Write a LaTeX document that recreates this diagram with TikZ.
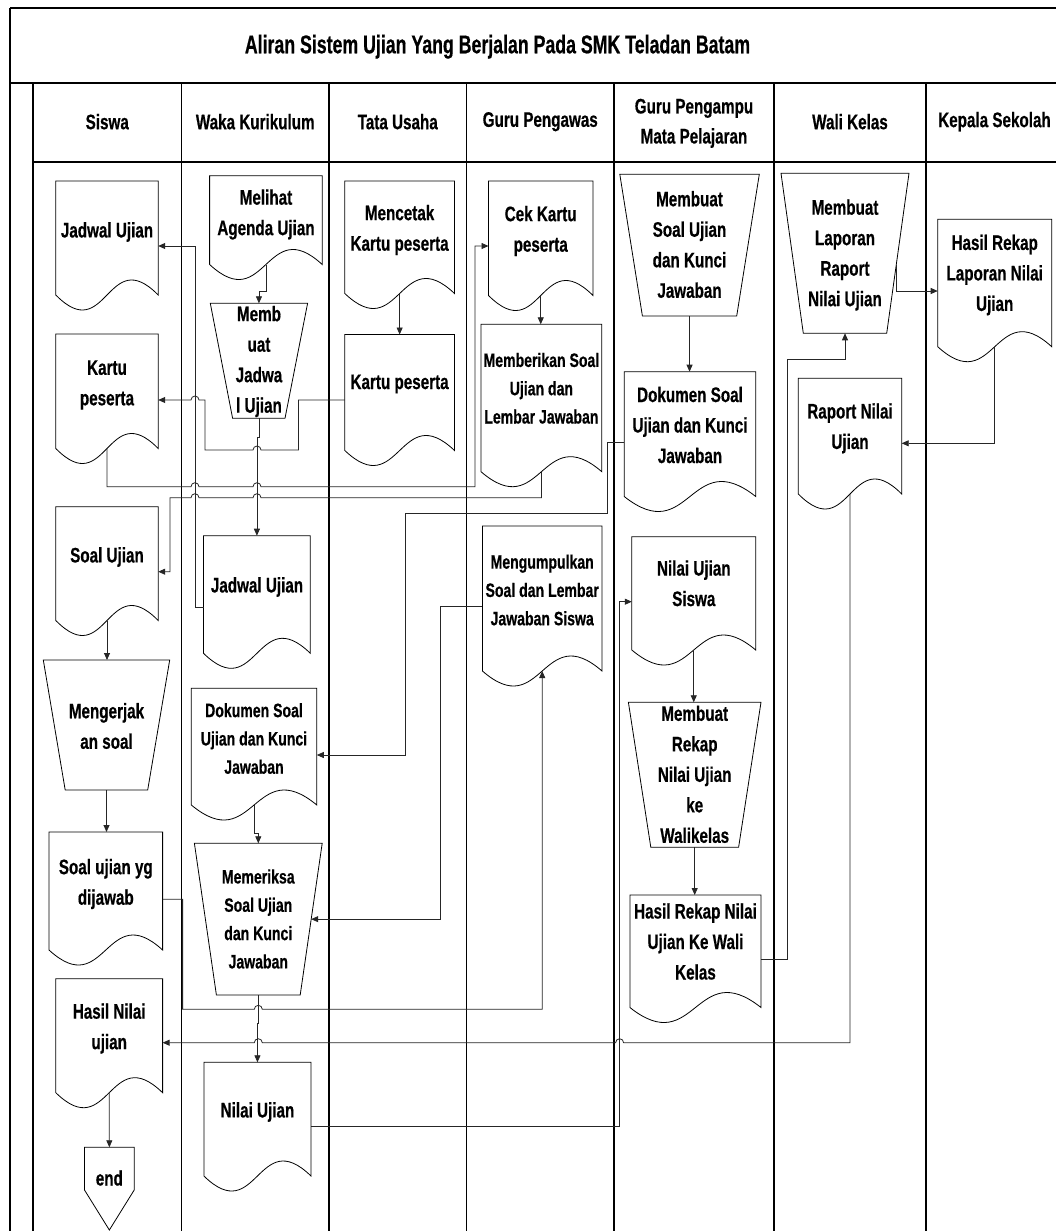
\documentclass[tikz,border=0pt]{standalone}
\usepackage{fontspec}
\setmainfont{Liberation Sans}[FakeStretch=0.725, BoldFeatures={FakeBold=0.5}]
\newfontfamily\titlefont{Liberation Sans}[FakeStretch=0.69, BoldFeatures={FakeBold=0.5}]
\usetikzlibrary{arrows.meta,calc,fit}

% document symbol: rectangle with a wavy bottom edge
\newcommand{\docnode}[5]{% name, x left, y top, x right, y side end
  \coordinate (#1-tl) at (#2,#3);
  \coordinate (#1-br) at (#4,#5);
  \node[box, fit=(#1-tl)(#1-br)] (#1) {};
  \draw[outline] (#1.north west) -- (#1.south west)
    .. controls ($(#1.south)+(0,52)$) and ($(#1.south)+(0,-52)$) .. (#1.south east)
    -- (#1.north east) -- cycle;
}
% manual operation symbol: trapezoid, wide side on top
\newcommand{\trapnode}[7]{% name, x top left, x top right, y top, x bottom left, x bottom right, y bottom
  \coordinate (#1-tl) at (#2,#4);
  \coordinate (#1-tr) at (#3,#4);
  \coordinate (#1-bl) at (#5,#7);
  \coordinate (#1-br) at (#6,#7);
  \node[box, fit=(#1-tl)(#1-tr)(#1-bl)(#1-br)] (#1) {};
  \draw[outline] (#1-tl) -- (#1-tr) -- (#1-br) -- (#1-bl) -- cycle;
}

\begin{document}
\begin{tikzpicture}[x=1pt,y=-1pt,
  outline/.style={draw=black, line width=0.8pt},
  box/.style={inner sep=0pt, outer sep=0pt, draw=none},
  lane/.style={draw=black, line width=1.1pt},
  frameline/.style={draw=black, line width=1.7pt},
  conn/.style={draw=black!85, line width=0.8pt},
  arr/.style={conn, -{Triangle[length=7pt,width=6pt]}},
  lbl/.style={font=\bfseries\fontsize{21}{30.5}\selectfont, align=center, inner sep=0pt},
  lblsm/.style={font=\bfseries\fontsize{19.4}{28.3}\selectfont, align=center, inner sep=0pt},
  hdr/.style={font=\bfseries\fontsize{21}{30}\selectfont, align=center, inner sep=0pt},
]
\useasboundingbox (0,0) rectangle (1056,1231);
\clip (0,0) rectangle (1056,1231);
\fill[white] (0,0) rectangle (1056,1231);

% ---------- frame, title and swimlanes ----------
\draw[lane] (10,8) -- (1070,8);
\draw[lane] (10,8) -- (10,1240);
\draw[frameline] (10,83.3) -- (1070,83.3);
\draw[lane] (33,83.3) -- (33,1240);
\draw[lane] (33,162) -- (1070,162);
\foreach \x in {181.5,329,466.5,614,774,926}
  \draw[lane] (\x,83.3) -- (\x,1240);

\node[font=\titlefont\bfseries\fontsize{25.7}{30}\selectfont, inner sep=0pt] (title) at (497.5,46.7)
  {Aliran Sistem Ujian Yang Berjalan Pada SMK Teladan Batam};

\node[hdr] (hSiswa) at (107.25,121.7) {Siswa};
\node[hdr] (hWaka) at (255.25,121.7) {Waka Kurikulum};
\node[hdr] (hTU) at (397.75,121.7) {Tata Usaha};
\node[hdr] (hGP) at (540.25,121.7) {Guru Pengawas};
\node[hdr] (hGPM) at (694,123.3) {Guru Pengampu\\Mata Pelajaran};
\node[hdr] (hWK) at (850,121.7) {Wali Kelas};
\node[hdr] (hKS) at (994.5,121.7) {Kepala Sekolah};

% ---------- Siswa ----------
\docnode{jadS}{55.8}{181}{158.2}{295}
\node[lbl] (jadS-t) at (107,232) {Jadwal Ujian};
\docnode{kartuS}{55.8}{334}{158.2}{448.5}
\node[lbl] (kartuS-t) at (107,385) {Kartu\\peserta};
\docnode{soalS}{55.8}{506.7}{158.2}{620.5}
\node[lbl] (soalS-t) at (107,557) {Soal Ujian};
\trapnode{kerja}{43.3}{169.7}{660}{65.2}{147.7}{790}
\node[lbl] (kerja-t) at (106.5,726) {Mengerjak\\an soal};
\docnode{soalYg}{49}{832}{162.6}{950}
\node[lbl] (soalYg-t) at (105.8,884) {Soal ujian yg\\dijawab};
\docnode{hasilS}{55.8}{978.7}{162.6}{1092.7}
\node[lbl] (hasilS-t) at (109.2,1028.5) {Hasil Nilai\\ujian};
\coordinate (endS-tl) at (84.5,1147.3);
\coordinate (endS-br) at (134.2,1230);
\node[box, fit=(endS-tl)(endS-br)] (endS) {};
\draw[outline] (endS.north west) -- (endS.north east) -- ($(endS.north east)+(0,42.7)$)
  -- (endS.south) -- ($(endS.north west)+(0,42.7)$) -- cycle;
\node[lbl] (endS-t) at (109.35,1178) {end};

% ---------- Waka Kurikulum ----------
\docnode{melihat}{209.6}{175.7}{322.2}{264.5}
\node[lbl] (melihat-t) at (266,214.5) {Melihat\\Agenda Ujian};
\trapnode{jadwal}{210.3}{307.6}{303.3}{232.6}{285}{418.3}
\node[lbl] (jadwal-t) at (259,361.5) {Memb\\uat\\Jadwa\\l Ujian};
\docnode{jadW}{203.5}{535.7}{310.3}{653.3}
\node[lbl] (jadW-t) at (257,587) {Jadwal Ujian};
\docnode{dokW}{191.3}{688.3}{316.8}{805}
\node[lblsm] (dokW-t) at (254,738.5) {Dokumen Soal\\Ujian dan Kunci\\Jawaban};
\trapnode{periksa}{194.4}{322.2}{843.3}{216.4}{300.2}{995}
\node[lblsm] (periksa-t) at (258.3,919) {Memeriksa\\Soal Ujian\\dan Kunci\\Jawaban};
\docnode{nilaiW}{203.9}{1062.3}{311}{1176}
\node[lbl] (nilaiW-t) at (257.5,1112) {Nilai Ujian};

% ---------- Tata Usaha ----------
\docnode{cetak}{344.8}{181}{454.5}{293.5}
\node[lbl] (cetak-t) at (399.6,230) {Mencetak\\Kartu peserta};
\docnode{kartuT}{344.8}{334.5}{454.5}{450.5}
\node[lbl] (kartuT-t) at (399.6,384) {Kartu peserta};

% ---------- Guru Pengawas ----------
\docnode{cek}{488.5}{181}{593}{295.5}
\node[lbl] (cek-t) at (540.7,231) {Cek Kartu\\peserta};
\docnode{beri}{481}{324.3}{601.8}{471.7}
\node[lblsm] (beri-t) at (541.4,388.3) {Memberikan Soal\\Ujian dan\\Lembar Jawaban};
\docnode{kumpul}{482.4}{526}{602}{671}
\node[lblsm] (kumpul-t) at (542.2,590) {Mengumpulkan\\Soal dan Lembar\\Jawaban Siswa};

% ---------- Guru Pengampu Mata Pelajaran ----------
\trapnode{buatSoal}{619.8}{759.3}{174.3}{642.4}{736.7}{316}
\node[lbl] (buatSoal-t) at (689.5,244.5) {Membuat\\Soal Ujian\\dan Kunci\\Jawaban};
\docnode{dokG}{624.2}{371.7}{755.7}{496.5}
\node[lbl] (dokG-t) at (690,425) {Dokumen Soal\\Ujian dan Kunci\\Jawaban};
\docnode{nilaiG}{631.8}{536.7}{755.7}{650}
\node[lbl] (nilaiG-t) at (693.8,583.3) {Nilai Ujian\\Siswa};
\trapnode{rekap}{628.4}{761}{702.3}{650.8}{738.6}{847.3}
\node[lbl] (rekap-t) at (694.7,774.3) {Membuat\\Rekap\\Nilai Ujian\\ke\\Walikelas};
\docnode{hasilG}{629.9}{895}{761}{1007.5}
\node[lbl] (hasilG-t) at (695.5,941.5) {Hasil Rekap Nilai\\Ujian Ke Wali\\Kelas};

% ---------- Wali Kelas ----------
\trapnode{laporan}{781}{909}{173.3}{803.3}{886.7}{333.3}
\node[lbl] (laporan-t) at (845,255) {Membuat\\Laporan\\Raport\\Nilai Ujian};
\docnode{raport}{798.3}{378.3}{901.7}{494}
\node[lbl] (raport-t) at (850,428.3) {Raport Nilai\\Ujian};

% ---------- Kepala Sekolah ----------
\docnode{hasilK}{937.7}{219.3}{1051.7}{346.7}
\node[lbl] (hasilK-t) at (994.7,275) {Hasil Rekap\\Laporan Nilai\\Ujian};

% ---------- flows (horizontal lines hop over vertical ones) ----------
\draw[arr] (melihat.south) -- ++(0,27.2) -| (jadwal.north);
\draw[arr] (jadwal.south) -- ++(0,19) -| (jadW.north);
\draw[arr] (jadW.west |- 0,607) -- (195,607) -- (195,246) -- (jadS.east |- 0,246);
\draw[arr] (kartuT.west |- 0,400) -- (298.5,400) -- (298.5,450) -- (261,450)
  arc[start angle=0,end angle=180,radius=4pt] -- (205,450) -- (205,400) -- (199,400)
  arc[start angle=0,end angle=180,radius=4pt] -- (kartuS.east |- 0,400);
\draw[arr] (kartuS.south) -- (107,486.7) -- (191,486.7)
  arc[start angle=180,end angle=0,radius=4pt] -- (253,486.7)
  arc[start angle=180,end angle=0,radius=4pt] -- (475,486.7) -- (475,246) -- (cek.west |- 0,246);
\draw[arr] (cek.south) -- (cek.south |- beri.north);
\draw[arr] (beri.south) -- (541.4,497.7) -- (261,497.7)
  arc[start angle=0,end angle=180,radius=4pt] -- (199,497.7)
  arc[start angle=0,end angle=180,radius=4pt] -- (170,497.7) -- (170,571.7) -- (soalS.east |- 0,571.7);
\draw[arr] (cetak.south) -- (kartuT.north);
\draw[arr] (soalS.south) -- (soalS.south |- kerja.north);
\draw[arr] (kerja.south) -- (kerja.south |- soalYg.north);
\draw[arr] (soalYg.east |- 0,899.3) -- (182.6,899.3) -- (182.6,1009.3) -- (254.3,1009.3)
  arc[start angle=180,end angle=0,radius=4pt] -- (kumpul.south |- 0,1009.3) -- (kumpul.south);
\draw[arr] (buatSoal.south) -- (buatSoal.south |- dokG.north);
\draw[arr] (dokG.west |- 0,442.7) -- (607.3,442.7) -- (607.3,513.3) -- (405.5,513.3)
  -- (405.5,755) -- (dokW.east |- 0,755);
\draw[arr] (dokW.south) -- ++(0,28) -| (periksa.north);
\draw[arr] (kumpul.west |- 0,606.7) -- (440.7,606.7) -- (440.7,919.15)
  -- ($(periksa-tr)!0.5!(periksa-br)$);
\draw[arr] (periksa.south) -- ++(0,28) -| (nilaiW.north);
\draw[arr] (nilaiW.east |- 0,1126.7) -- (619.6,1126.7) -- (619.6,601.7) -- (nilaiG.west |- 0,601.7);
\draw[arr] (nilaiG.south) -- (nilaiG.south |- rekap.north);
\draw[arr] (rekap.south) -- (rekap.south |- hasilG.north);
\draw[arr] (hasilG.east |- 0,959) -- (787.6,959) -- (787.6,359) -- (845,359) -- (laporan.south);
\draw[arr] ($(laporan-tr)!0.57!(laporan-br)$) |- (hasilK.west |- 0,291);
\draw[arr] (hasilK.south) |- (raport.east |- 0,443.3);
\draw[arr] (raport.south) -- (850,1042.7) -- (623.6,1042.7)
  arc[start angle=0,end angle=180,radius=4pt] -- (262.3,1042.7)
  arc[start angle=0,end angle=180,radius=4pt] -- (hasilS.east |- 0,1042.7);
\draw[arr] (hasilS.south) -- (endS.north);
\end{tikzpicture}
\end{document}
